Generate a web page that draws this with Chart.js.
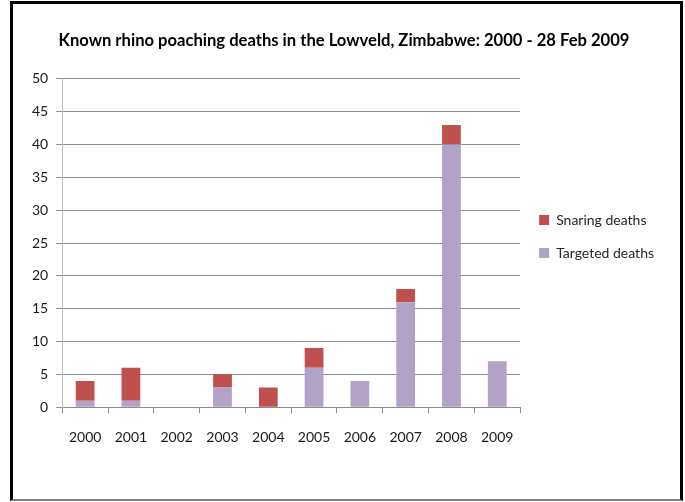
<!DOCTYPE html>
<html>
<head>
<meta charset="utf-8">
<script src="https://cdn.jsdelivr.net/npm/chart.js@4"></script>
<style>
  html, body { margin: 0; padding: 0; background: #fff; }
  #wrap { position: absolute; left: 0; top: 0; width: 685px; height: 502px; }
  #frame {
    position: absolute; left: 10px; top: 1px; width: 667px; height: 495px;
    border-left: 3px solid #000; border-top: 3px solid #000;
    border-right: 3px solid #000; border-bottom: 2px solid #7f7f7f;
    pointer-events: none;
  }
</style>
</head>
<body>
<div id="wrap"><canvas id="chart" width="685" height="502"></canvas></div>
<div id="frame"></div>
<script>
const years = ['2000', '2001', '2002', '2003', '2004', '2005', '2006', '2007', '2008', '2009']
const targeted = [1, 1, 0, 3, 0, 6, 4, 16, 40, 7]
const snaring = [3, 5, 0, 2, 3, 3, 0, 2, 3, 0]

Chart.defaults.font.family = 'Lato, "Open Sans", sans-serif'
Chart.defaults.color = '#1a1a1a'

let ctx = document.getElementById('chart')

const rhinoChart = new Chart(ctx, {
    type: 'bar',
    data: {
        labels: years,
        datasets: [{
            label: 'Targeted deaths',
            data: targeted,
            backgroundColor: '#b3a2c7',
            barPercentage: 0.41,
            categoryPercentage: 1
        }, {
            label: 'Snaring deaths',
            data: snaring,
            backgroundColor: '#c0504d',
            barPercentage: 0.41,
            categoryPercentage: 1
        }]
    },
    options: {
        responsive: false,
        animation: false,
        layout: {
            padding: { left: 24, top: 11, right: 21, bottom: 40 }
        },
        plugins: {
            title: {
                display: true,
                text: 'Known rhino poaching deaths in the Lowveld, Zimbabwe: 2000 - 28 Feb 2009',
                font: { size: 16.6, weight: 'bold' },
                color: '#000',
                padding: { top: 20, bottom: 28 }
            },
            legend: {
                position: 'right',
                reverse: true,
                labels: {
                    boxWidth: 10,
                    boxHeight: 10,
                    padding: 19,
                    font: { size: 14 },
                    color: '#262626'
                }
            },
            tooltip: { enabled: false }
        },
        scales: {
            x: {
                stacked: true,
                grid: {
                    drawOnChartArea: false,
                    drawTicks: true,
                    tickLength: 6,
                    color: '#8c8c8c'
                },
                border: { color: '#8c8c8c' },
                ticks: { font: { size: 14 }, padding: 16 }
            },
            y: {
                stacked: true,
                min: 0,
                max: 50,
                ticks: { stepSize: 5, font: { size: 14 }, padding: 8 },
                grid: { color: '#8c8c8c', tickLength: 6 },
                border: { color: '#bfbfbf' }
            }
        }
    }
})
</script>
</body>
</html>
